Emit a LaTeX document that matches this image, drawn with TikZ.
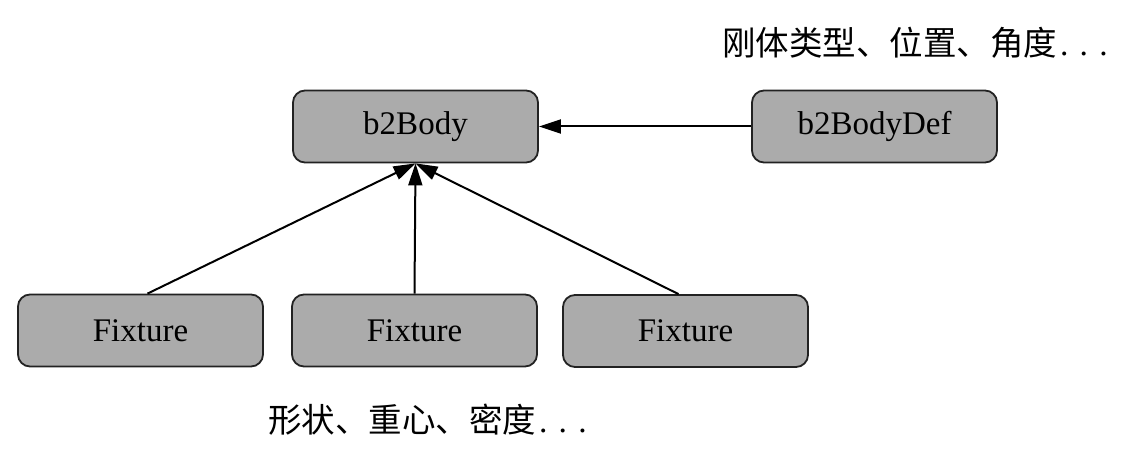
\documentclass[tikz,border=0pt]{standalone}
\usepackage{fontspec}
\setmainfont{Liberation Serif}
\newfontfamily\cjk{Noto Sans CJK SC}
\usetikzlibrary{arrows.meta}
\definecolor{boxfill}{HTML}{ABABAB}
\definecolor{boxline}{HTML}{222222}
\begin{document}
\begin{tikzpicture}[x=1pt,y=-1pt,
  cbox/.style={draw=boxline, line width=1.8pt, fill=boxfill, rounded corners=12pt,
    minimum width=245pt, minimum height=72pt, inner sep=0pt,
    font=\fontsize{33}{38}\selectfont},
  conn/.style={draw=black, line width=2pt, -{Triangle[length=22pt,width=14pt]}},
  note/.style={font=\fontsize{33.5}{38}\selectfont\cjk, inner sep=0pt, anchor=west}]
\useasboundingbox (0,0) rectangle (1144,465);
\node[cbox] (body) at (415.5,126.5) {b2Body};
\node[cbox] (def) at (874.5,126.5) {b2BodyDef};
\node[cbox] (f1) at (140.5,330.5) {Fixture};
\node[cbox] (f2) at (414.5,330.5) {Fixture};
\node[cbox] (f3) at (685.5,331) {Fixture};
\node[note] (n1) at (722,43) {刚体类型、位置、角度{\rmfamily\hspace{3pt}. . .}};
\node[note] (n2) at (268,420) {形状、重心、密度{\rmfamily\hspace{3pt}. . .}};
\draw[conn] (def.west) -- (body.east);
\draw[conn] ([xshift=7pt]f1.north) -- (body.south);
\draw[conn] (f2.north) -- (body.south);
\draw[conn] ([xshift=-7pt]f3.north) -- (body.south);
\end{tikzpicture}
\end{document}
